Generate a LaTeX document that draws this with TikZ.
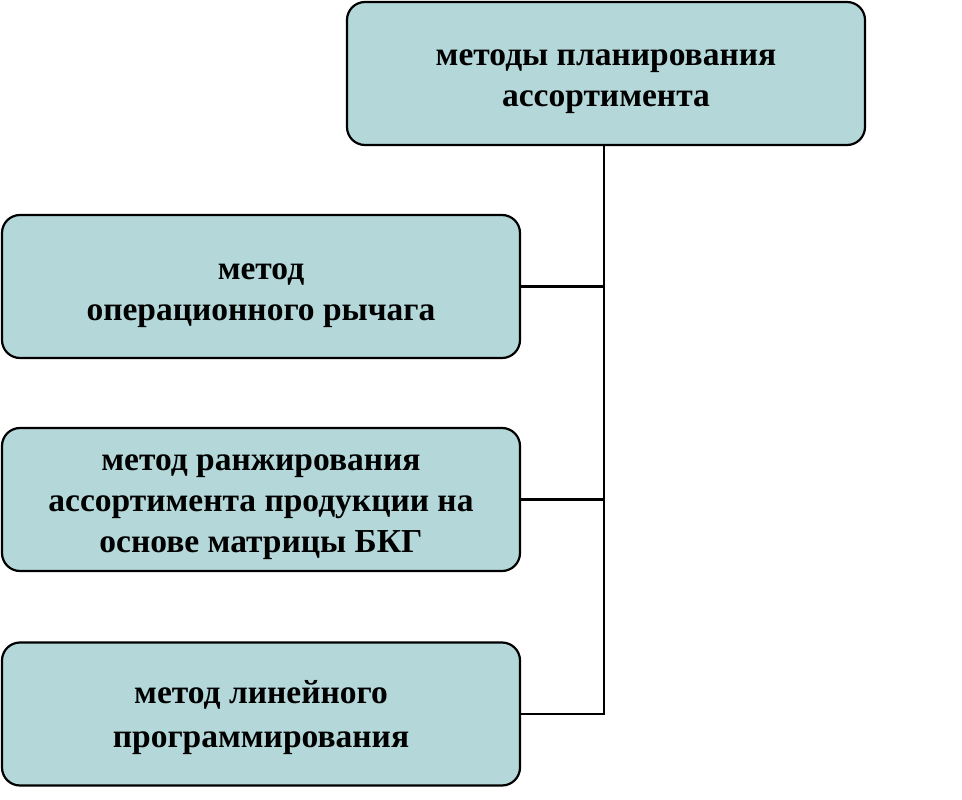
\documentclass[tikz,border=0pt]{standalone}
\usepackage{fontspec}
\setmainfont{Liberation Serif}
\definecolor{boxfill}{RGB}{180,216,218}
\begin{document}
\begin{tikzpicture}[x=1pt,y=-1pt,
  box/.style={draw=black, line width=2.2pt, fill=boxfill, rounded corners=18pt,
    minimum width=518pt, minimum height=143pt, inner sep=0pt},
  lbl/.style={align=center, inner sep=0pt,
    font=\fontsize{33.5}{41}\selectfont\bfseries},
  conn/.style={draw=black, line width=2.6pt}]
\useasboundingbox (0,0) rectangle (962,800);
\fill[white] (0,0) rectangle (962,800);
\node[box] (top) at (606,73.5) {};
\node[box] (b2) at (261,286.5) {};
\node[box] (b3) at (261,499.5) {};
\node[box] (b4) at (261,714) {};
\node[lbl] (t1) at ([yshift=-8pt]top.center) {методы планирования\\ассортимента};
\node[lbl] (t2) at ([yshift=-9pt]b2.center) {метод\\операционного рычага};
\node[lbl] (t3) at ([yshift=-8pt]b3.center) {метод ранжирования\\ассортимента продукции на\\основе матрицы БКГ};
\node[lbl,font=\fontsize{33.5}{44}\selectfont\bfseries] (t4) at ([yshift=-4pt]b4.center) {метод линейного\\программирования};
\coordinate (spine) at (604,145);
\draw[conn] (spine |- top.south) -- (spine |- b4.east) -- (b4.east);
\draw[conn] (b2.east) -- (b2.east -| spine);
\draw[conn] (b3.east) -- (b3.east -| spine);
\end{tikzpicture}
\end{document}
